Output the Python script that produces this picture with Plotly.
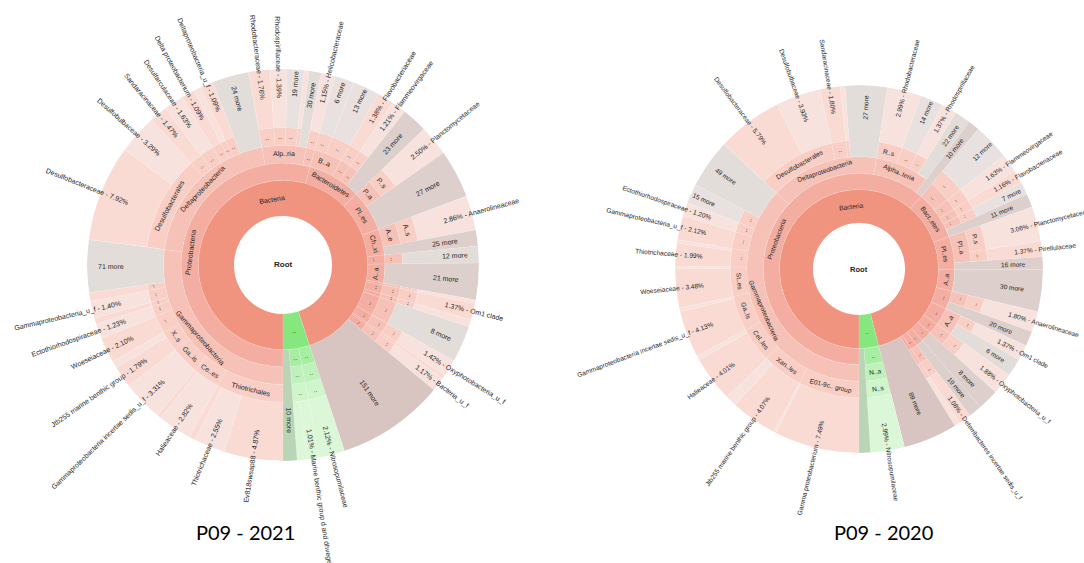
import math
import plotly.graph_objects as go

# ---------------- P09 - 2021 ----------------
labels_2021 = [
    "Ev818swsap88", "Thiotrichaceae", "", "Halieaceae", "", "Gammaproteobacteria incertae sedis_u_f",
    "Jtb255 marine benthic group", "", "Woeseiaceae", "Ectothiorhodospiraceae", "", "Gammaproteobacteria_u_f", "", "71 more",
    "Desulfobacteraceae", "Desulfobulbaceae", "Sandaracinaceae", "Desulfarculaceae", "Delta proteobacterium", "",
    "Deltaproteobacteria_u_f", "24 more",
    "Rhodobacteraceae", "Rhodospirillaceae", "19 more", "", "30 more",
    "Helicobacteraceae",
    "6 more", "13 more", "Flavobacteriaceae", "Flammeovirgaceae", "23 more",
    "Planctomycetaceae", "27 more",
    "Anaerolineaceae", "25 more",
    "12 more", "21 more", "", "Om1 clade", "", "8 more", "Oxyphotobacteria_u_f", "", "Bacteria_u_f",
    "151 more",
    "Nitrosopumilaceae", "Marine benthic group d and dhvege-1", "", "10 more",
]
pct_2021 = [
    4.87, 2.55, 0.50, 2.82, 0.35, 3.31,
    1.79, 0.60, 2.10, 1.23, 0.50, 1.40, 0.70, 4.35,
    7.92, 3.29, 1.47, 1.63, 1.09, 0.60,
    1.09, 3.00,
    1.76, 1.39, 1.40, 0.40, 1.00,
    1.15,
    1.60, 2.20, 1.38, 1.21, 2.10,
    2.50, 4.00,
    2.86, 1.30,
    1.40, 3.00, 0.30, 1.37, 0.60, 3.00, 1.42, 0.30, 1.17,
    8.90,
    2.12, 1.01, 0.80, 1.15,
]
lineage_2021 = [
    "Bacteria;Proteobacteria;Gammaproteobacteria;Thiotrichales",
    "Bacteria;Proteobacteria;Gammaproteobacteria;Thiotrichales",
    "Bacteria;Proteobacteria;Gammaproteobacteria;Thiotrichales",
    "Bacteria;Proteobacteria;Gammaproteobacteria;Ce..es",
    "Bacteria;Proteobacteria;Gammaproteobacteria;Ce..es",
    "Bacteria;Proteobacteria;Gammaproteobacteria;Ga..is",
    "Bacteria;Proteobacteria;Gammaproteobacteria;X..s",
    "Bacteria;Proteobacteria;Gammaproteobacteria;X..s",
    "Bacteria;Proteobacteria;Gammaproteobacteria;..|g1",
    "Bacteria;Proteobacteria;Gammaproteobacteria;..|g2",
    "Bacteria;Proteobacteria;Gammaproteobacteria;..|g3",
    "Bacteria;Proteobacteria;Gammaproteobacteria;..|g4",
    "Bacteria;Proteobacteria;Gammaproteobacteria;..|g5",
    "Bacteria;Proteobacteria;Gammaproteobacteria",
    "Bacteria;Proteobacteria;Deltaproteobacteria;Desulfobacterales",
    "Bacteria;Proteobacteria;Deltaproteobacteria;Desulfobacterales",
    "Bacteria;Proteobacteria;Deltaproteobacteria;..|d1",
    "Bacteria;Proteobacteria;Deltaproteobacteria;..|d2",
    "Bacteria;Proteobacteria;Deltaproteobacteria;..|d3",
    "Bacteria;Proteobacteria;Deltaproteobacteria;..|d4",
    "Bacteria;Proteobacteria;Deltaproteobacteria;..|d5",
    "Bacteria;Proteobacteria;Deltaproteobacteria",
    "Bacteria;Proteobacteria;Alp..ria;..|a1",
    "Bacteria;Proteobacteria;Alp..ria;..|a2",
    "Bacteria;Proteobacteria;Alp..ria;..|a3",
    "Bacteria;Proteobacteria;Alp..ria;..|a4",
    "Bacteria;Proteobacteria;Alp..ria",
    "Bacteria;Proteobacteria;..|e;..|e1",
    "Bacteria;Bacteroidetes;B..a;..|b1",
    "Bacteria;Bacteroidetes;B..a;..|b2",
    "Bacteria;Bacteroidetes;..|bc1;..|b3",
    "Bacteria;Bacteroidetes;..|bc2;..|b4",
    "Bacteria;Bacteroidetes",
    "Bacteria;Pl..es;P..a;P..s",
    "Bacteria;Pl..es",
    "Bacteria;Ch..xi;A..e;A..s",
    "Bacteria;Ch..xi",
    "Bacteria;..|p1;..|p1c",
    "Bacteria;A..a",
    "Bacteria;..|p2;..|p2c;..|p2o",
    "Bacteria;..|p3;..|p3c;..|p3o",
    "Bacteria;..|p4;..|p4c;..|p4o",
    "Bacteria;..|p5;..|p5c",
    "Bacteria;..|p6;..|p6c;..|p6o",
    "Bacteria;..|p7;..|p7c;..|p7o",
    "Bacteria;..|p8;..|p8c;..|p8o",
    "Bacteria",
    "..|Archaea;..|ar1;..|ar1c;..|ar1o",
    "..|Archaea;..|ar2;..|ar2c;..|ar2o",
    "..|Archaea;..|ar2;..|ar2c;..|ar2o",
    "..|Archaea",
]

# ---------------- P09 - 2020 ----------------
labels_2020 = [
    "Gamma proteobacterium", "", "Jtb255 marine benthic group", "", "Halieaceae", "",
    "Gammaproteobacteria incertae sedis_u_f", "",
    "Woeseiaceae", "", "Thiotrichaceae", "", "Gammaproteobacteria_u_f", "Ectothiorhodospiraceae", "15 more", "49 more",
    "Desulfobacteraceae", "Desulfobulbaceae", "Sandaracinaceae", "", "27 more",
    "Rhodobacteraceae", "14 more", "Rhodospirillaceae", "22 more", "10 more",
    "12 more", "Flammeovirgaceae", "Flavobacteriaceae", "7 more", "11 more",
    "Planctomycetaceae", "Pirellulaceae", "16 more",
    "30 more", "Anaerolineaceae", "20 more", "Om1 clade", "6 more",
    "Oxyphotobacteria_u_f", "8 more", "19 more", "Deferribacteres incertae sedis_u_f", "", "89 more",
    "Nitrosopumilaceae", "",
]
pct_2020 = [
    7.49, 0.20, 4.07, 1.00, 4.01, 0.40,
    4.13, 0.30,
    3.48, 0.20, 1.99, 0.30, 2.12, 1.20, 1.70, 4.30,
    5.79, 3.93, 1.80, 0.40, 3.70,
    2.99, 2.00, 1.37, 1.40, 1.00,
    3.20, 1.63, 1.16, 1.10, 1.20,
    3.06, 1.37, 1.10,
    3.70, 1.80, 1.30, 1.37, 1.60,
    1.88, 1.80, 1.20, 1.08, 0.50, 4.75,
    2.99, 1.00,
]
lineage_2020 = [
    "Bacteria;Proteobacteria;Gammaproteobacteria;E01-9c.. group",
    "Bacteria;Proteobacteria;Gammaproteobacteria;E01-9c.. group",
    "Bacteria;Proteobacteria;Gammaproteobacteria;Xan..les",
    "Bacteria;Proteobacteria;Gammaproteobacteria;Xan..les",
    "Bacteria;Proteobacteria;Gammaproteobacteria;Cel..les",
    "Bacteria;Proteobacteria;Gammaproteobacteria;Cel..les",
    "Bacteria;Proteobacteria;Gammaproteobacteria;Ga..ls",
    "Bacteria;Proteobacteria;Gammaproteobacteria;Ga..ls",
    "Bacteria;Proteobacteria;Gammaproteobacteria;St..es",
    "Bacteria;Proteobacteria;Gammaproteobacteria;St..es",
    "Bacteria;Proteobacteria;Gammaproteobacteria;..|g1",
    "Bacteria;Proteobacteria;Gammaproteobacteria;..|g1",
    "Bacteria;Proteobacteria;Gammaproteobacteria;..|g2",
    "Bacteria;Proteobacteria;Gammaproteobacteria;..|g3",
    "Bacteria;Proteobacteria;Gammaproteobacteria;..|g4",
    "Bacteria;Proteobacteria;Gammaproteobacteria",
    "Bacteria;Proteobacteria;Deltaproteobacteria;Desulfobacterales",
    "Bacteria;Proteobacteria;Deltaproteobacteria;Desulfobacterales",
    "Bacteria;Proteobacteria;Deltaproteobacteria;..|d1",
    "Bacteria;Proteobacteria;Deltaproteobacteria;..|d2",
    "Bacteria;Proteobacteria;Deltaproteobacteria",
    "Bacteria;Proteobacteria;Alpha..teria;R..s",
    "Bacteria;Proteobacteria;Alpha..teria;..|a1",
    "Bacteria;Proteobacteria;Alpha..teria;..|a2",
    "Bacteria;Proteobacteria;Alpha..teria",
    "Bacteria;Proteobacteria",
    "Bacteria;Bact..etes;..|bc1;..|bo1",
    "Bacteria;Bact..etes;..|bc2;..|bo2",
    "Bacteria;Bact..etes;..|bc3;..|bo3",
    "Bacteria;Bact..etes;..|bc4;..|bo4",
    "Bacteria;Bact..etes",
    "Bacteria;Pl..es;Pl..a;P..s",
    "Bacteria;Pl..es;Pl..a;..|po",
    "Bacteria;Pl..es",
    "Bacteria;A..a",
    "Bacteria;..|ch;..|chc;..|cho",
    "Bacteria;..|ch",
    "Bacteria;..|ac;A..a;..|aco",
    "Bacteria;..|ac;A..a",
    "Bacteria;..|cy;..|cyc;..|cyo",
    "Bacteria;..|p8",
    "Bacteria;..|p9",
    "Bacteria;..|df;..|dfc;..|dfo",
    "Bacteria;..|p10;..|p10c;..|p10o",
    "Bacteria",
    "..|Archaea;..|th;N..a;N..s",
    "..|Archaea",
]

# ---------------- geometry & style ----------------
W, H = 1084, 563
RINGS = [0.25, 0.432, 0.52, 0.61, 0.70]   # inner edge of domain, phylum, class, order, family rings
FONT = "Liberation Sans"
TEXT_COLOR = "#262626"

SALMON = ["#F0937F", "#F3AEA1", "#F6C1B6", "#F8CEC5", "#FADBD4"]
SALMON_LEAF_ALT = "#F7E2DD"
SALMON_MORE = {1: "#D8C5C2", 2: "#DCCFCC", 3: "#E3DDDA", 4: "#E8E1DF"}
GREEN = ["#86E77F", "#A8EEA2", "#BFF2BA", "#CFF5CB", "#DBF7D7"]
GREEN_MORE = "#B9D5B5"

# Arial / Liberation Sans advance widths (1/1000 em)
CHAR_W = {}
for chars, w in [("ijl'", 222), (" .,:;!ftI/", 278), ("r-()", 333), ("Jcksvxyz", 500),
                 ("0123456789abdeghnopqu_L?", 556), ("FTZ", 611), ("ABEKPSVXY", 667),
                 ("CDHNRUw", 722), ("GOQ", 778), ("mM", 833), ("%", 889), ("W", 944)]:
    for c in chars:
        CHAR_W[c] = w


def text_width(s, size):
    return sum(CHAR_W.get(c, 556) for c in s) * size / 1000.0


def norm_angle(t):
    while t > 90:
        t -= 180
    while t <= -90:
        t += 180
    return t


def layout_chart(labels, pct, lineage):
    total = sum(pct)
    k = 360.0 / total
    leaves, cum = [], 0.0
    for lab, v, lin in zip(labels, pct, lineage):
        leaves.append(dict(label=lab, value=v, path=lin.split(";"), a0=cum * k, a1=(cum + v) * k))
        cum += v
    nodes = []
    for depth in range(4):
        prev = None
        for lf in leaves:
            if len(lf["path"]) > depth:
                key = tuple(lf["path"][:depth + 1])
                if prev == key:
                    nodes[-1]["a1"] = lf["a1"]
                else:
                    nodes.append(dict(depth=depth, key=key, a0=lf["a0"], a1=lf["a1"]))
                prev = key
            else:
                prev = None
    return leaves, nodes


charts = [
    dict(title="P09 - 2021", labels=labels_2021, pct=pct_2021, lineage=lineage_2021,
         cx=283, cy=265, R=196, title_xy=(245, 532)),
    dict(title="P09 - 2020", labels=labels_2020, pct=pct_2020, lineage=lineage_2020,
         cx=859, cy=269, R=184, title_xy=(883, 532)),
]

fig = go.Figure()
annotations = []


def add_text(text, px, py, angle, size):
    annotations.append(dict(
        text=text, x=px / W, y=1 - py / H, xref="paper", yref="paper", showarrow=False,
        xanchor="center", yanchor="middle", textangle=angle,
        font=dict(family=FONT, size=size, color=TEXT_COLOR)))


polar_layouts = {}
for ci, ch in enumerate(charts):
    cx, cy, R = ch["cx"], ch["cy"], ch["R"]
    fs = 7.0 * R / 196.0
    leaves, nodes = layout_chart(ch["labels"], ch["pct"], ch["lineage"])

    def point(frac, phi):
        a = math.radians(phi + 180.0)
        return cx + frac * R * math.sin(a), cy - frac * R * math.cos(a)

    bases, rs, thetas, widths, colors = [], [], [], [], []
    # inner rings: domain, phylum, class, order
    for nd in nodes:
        d = nd["depth"]
        arch = "Archaea" in nd["key"][0]
        bases.append(RINGS[d])
        rs.append(RINGS[d + 1] - RINGS[d])
        thetas.append((nd["a0"] + nd["a1"]) / 2)
        widths.append(nd["a1"] - nd["a0"])
        colors.append((GREEN if arch else SALMON)[d])
        name = nd["key"][-1].split("|")[0]
        rmid = (RINGS[d] + RINGS[d + 1]) / 2
        arc = rmid * R * math.radians(nd["a1"] - nd["a0"])
        if name and arc >= 4:
            phi = (nd["a0"] + nd["a1"]) / 2
            px, py = point(rmid, phi)
            add_text(name, px, py, norm_angle(phi + 180.0), fs)
    # outer leaves, reaching the rim
    for i, lf in enumerate(leaves):
        d = len(lf["path"])
        arch = "Archaea" in lf["path"][0]
        bases.append(RINGS[d])
        rs.append(1.0 - RINGS[d])
        phi = (lf["a0"] + lf["a1"]) / 2
        thetas.append(phi)
        widths.append(lf["a1"] - lf["a0"])
        lab = lf["label"]
        is_more = lab.endswith("more") or (lab == "" and d < 4)
        if is_more:
            colors.append(GREEN_MORE if arch else SALMON_MORE[d])
        elif arch:
            colors.append(GREEN[4])
        else:
            colors.append(SALMON[4] if i % 2 == 0 else SALMON_LEAF_ALT)

        a = phi + 180.0
        radial_angle = norm_angle(a - 90.0)
        if lab.endswith("more"):
            frac = (RINGS[d] + 1.0) / 2 + 0.075
            arc = frac * R * math.radians(lf["a1"] - lf["a0"])
            if arc >= 7:
                px, py = point(frac, phi)
                add_text(lab, px, py, radial_angle, fs)
        elif lab:
            right_side = math.sin(math.radians(a)) > 0
            txt = f"{lf['value']:.2f}% - {lab}" if right_side else f"{lab} - {lf['value']:.2f}%"
            w = text_width(txt, fs)
            frac = (0.85 * R + w / 2) / R
            px, py = point(frac, phi)
            add_text(txt, px, py, radial_angle, fs)

    add_text("<b>Root</b>", cx, cy, 0, fs + 1)
    tx, ty = ch["title_xy"]
    annotations.append(dict(text=ch["title"], x=tx / W, y=1 - ty / H, xref="paper", yref="paper",
                            showarrow=False, xanchor="center", yanchor="middle",
                            font=dict(family="Lato", size=20, color="#000000")))

    subplot = "polar" if ci == 0 else "polar2"
    fig.add_trace(go.Barpolar(
        subplot=subplot, base=bases, r=rs, theta=thetas, width=widths,
        marker=dict(color=colors, line=dict(color="rgba(255,255,255,0.3)", width=0.4)),
        hoverinfo="skip", showlegend=False))
    polar_layouts[subplot] = dict(
        domain=dict(x=[(cx - R) / W, (cx + R) / W], y=[(H - cy - R) / H, (H - cy + R) / H]),
        bgcolor="rgba(0,0,0,0)", barmode="overlay", hole=0,
        angularaxis=dict(rotation=-90, direction="clockwise", visible=False, showgrid=False),
        radialaxis=dict(range=[0, 1], visible=False, showgrid=False),
    )

fig.update_layout(
    width=W, height=H, autosize=False,
    margin=dict(l=0, r=0, t=0, b=0),
    paper_bgcolor="white", plot_bgcolor="white",
    showlegend=False,
    annotations=annotations,
    **polar_layouts,
)

fig.write_html("out.html")
